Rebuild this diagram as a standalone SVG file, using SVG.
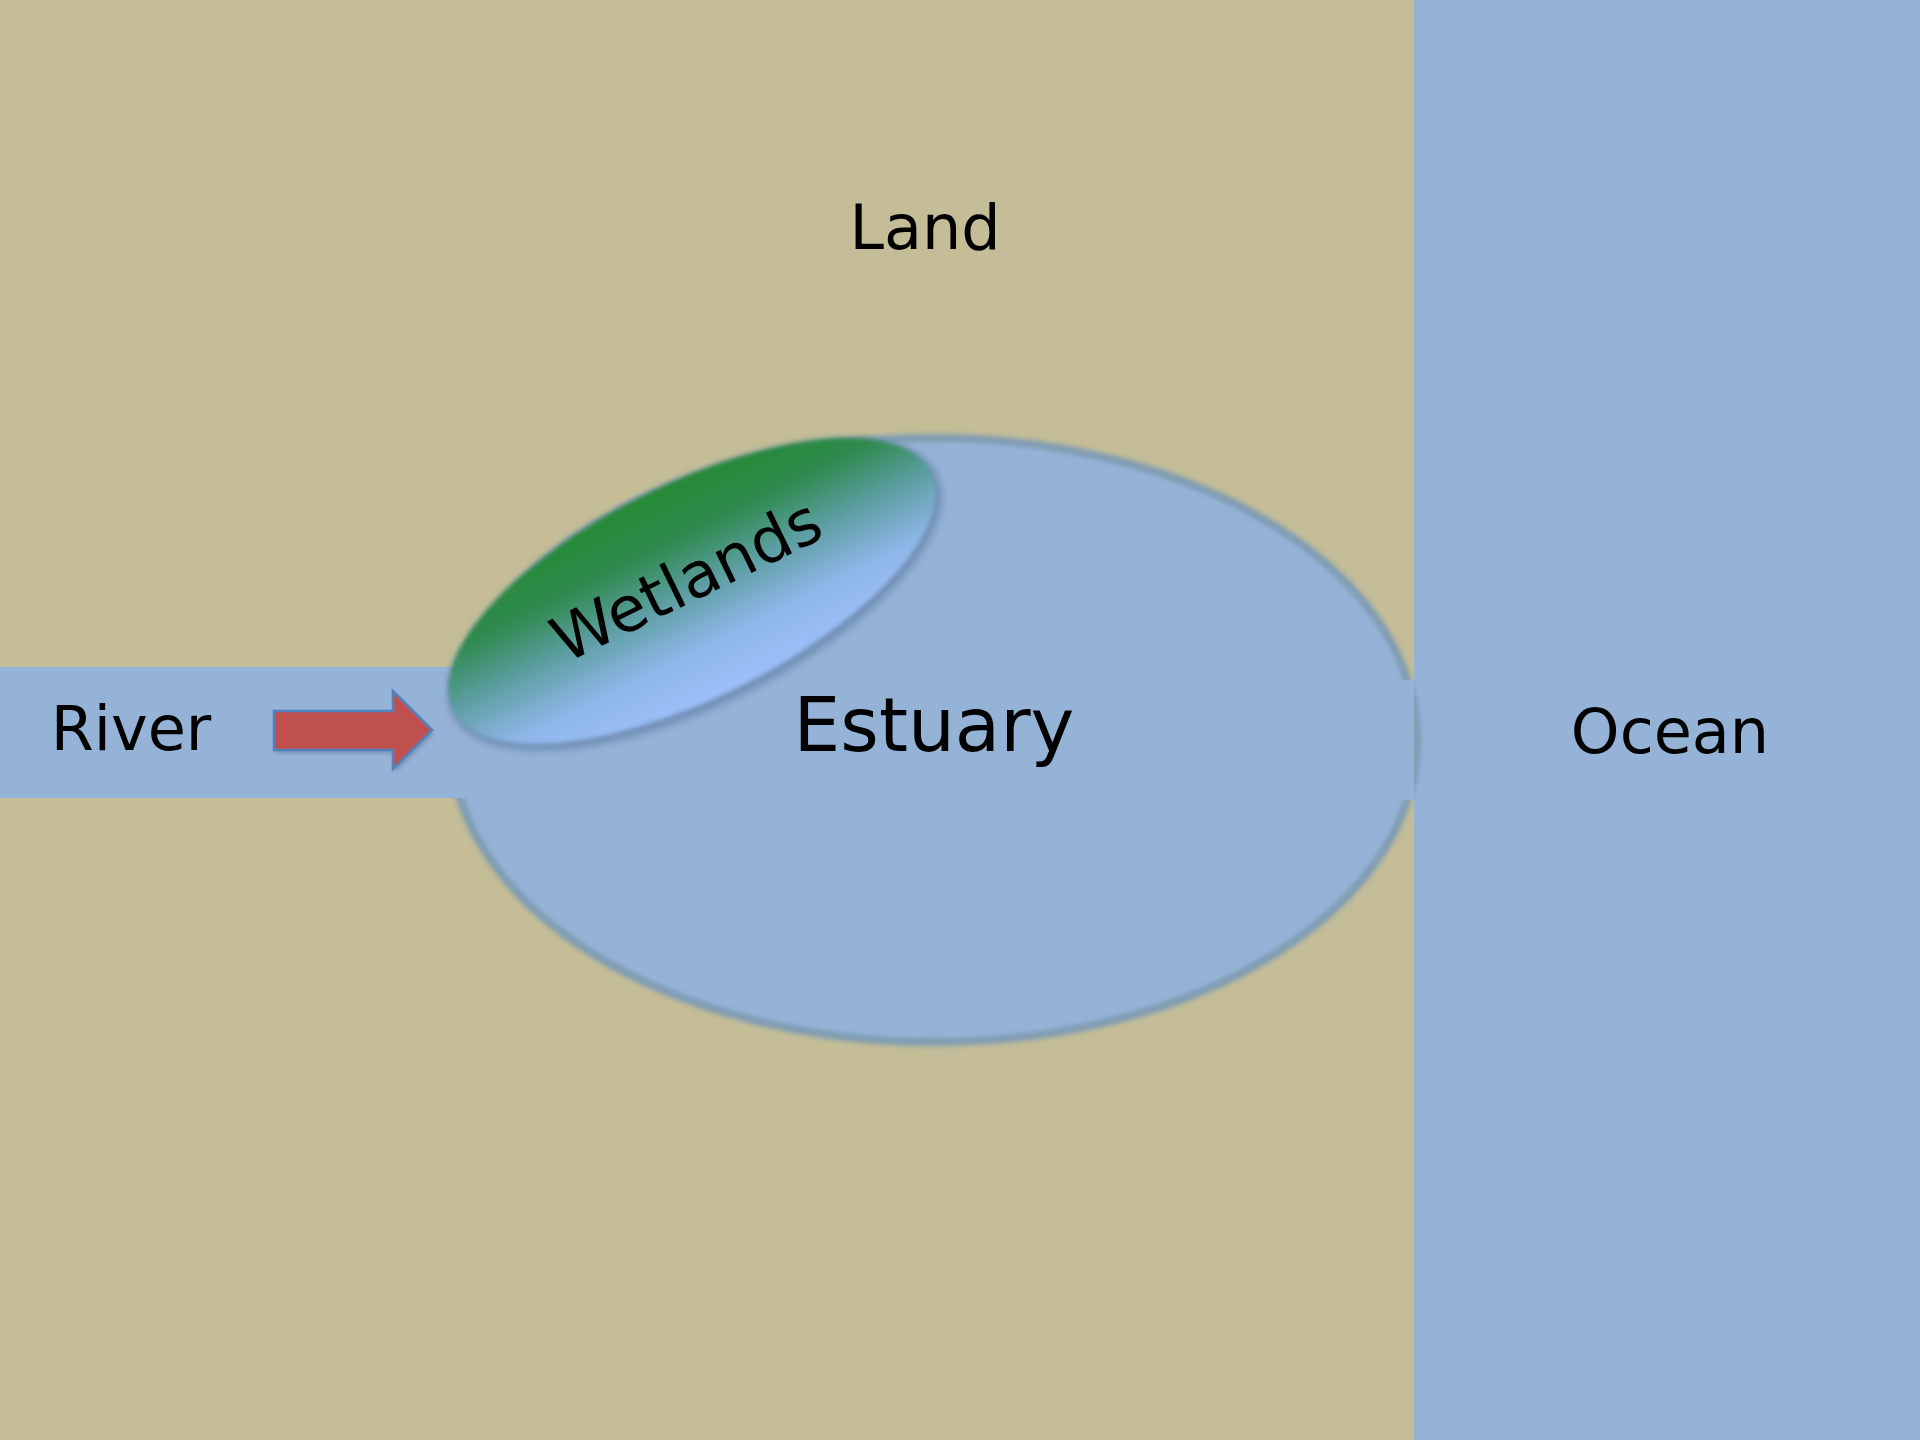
<svg xmlns="http://www.w3.org/2000/svg" width="1920" height="1440" viewBox="0 0 1920 1440">
<defs>
<style>
.lbl{font-family:"DejaVu Sans","Liberation Sans",sans-serif;fill:#000;text-anchor:middle}
.water{fill:#95B3D7}
</style>
<filter id="soft" x="-10%" y="-10%" width="120%" height="120%"><feGaussianBlur stdDeviation="2.5"/></filter>
<filter id="soft2" x="-20%" y="-30%" width="140%" height="160%"><feGaussianBlur stdDeviation="2.2"/></filter>
<filter id="shadow" x="-20%" y="-30%" width="140%" height="160%"><feGaussianBlur stdDeviation="4"/></filter>
<filter id="ashadow" x="-20%" y="-30%" width="140%" height="160%"><feGaussianBlur stdDeviation="2"/></filter>
<linearGradient id="wg" x1="0" y1="0" x2="0" y2="1">
<stop offset="0" stop-color="#248A34"/>
<stop offset="0.25" stop-color="#2F8A4E"/>
<stop offset="0.5" stop-color="#5E9FA4"/>
<stop offset="0.75" stop-color="#8EB6E8"/>
<stop offset="1" stop-color="#9CC0F8"/>
</linearGradient>
</defs>
<rect x="0" y="0" width="1920" height="1440" fill="#C4BD97"/>
<g id="ocean">
<rect class="water" x="1414" y="0" width="506" height="1440"/>
<text class="lbl" x="1670" y="753" font-size="62">Ocean</text>
</g>
<g id="estuary">
<ellipse cx="934" cy="740" rx="483" ry="302" fill="#95B3D7" stroke="#7E9BB2" stroke-width="8" filter="url(#soft)"/>
<rect class="water" x="1380" y="680" width="34" height="120"/>
</g>
<g id="river">
<rect class="water" x="0" y="667" width="465" height="131"/>
<text class="lbl" x="131" y="750" font-size="62">River</text>
</g>
<g id="wetlands">
<ellipse cx="0" cy="0" rx="270" ry="110" fill="#6E8CB2" filter="url(#shadow)" transform="translate(695,595) rotate(-26.5)"/>
<ellipse cx="0" cy="0" rx="267" ry="107" fill="url(#wg)" filter="url(#soft2)" transform="translate(692,591) rotate(-26.5)"/>
<text class="lbl" x="0" y="0" font-size="63" transform="translate(696,600) rotate(-26)">Wetlands</text>
</g>
<g id="connectors">
<path d="M274 711 H393 V691 L432 730 L393 769 V750 H274 Z" fill="#5A7596" opacity="0.6" filter="url(#ashadow)" transform="translate(2,3)"/>
<path d="M274 711 H393 V691 L432 730 L393 769 V750 H274 Z" fill="#C0504D" stroke="#4F81BD" stroke-width="2.5" stroke-linejoin="miter"/>
</g>
<g id="labels">
<text class="lbl" x="925" y="249" font-size="62">Land</text>
<text class="lbl" x="934" y="751" font-size="74">Estuary</text>
</g>
</svg>
